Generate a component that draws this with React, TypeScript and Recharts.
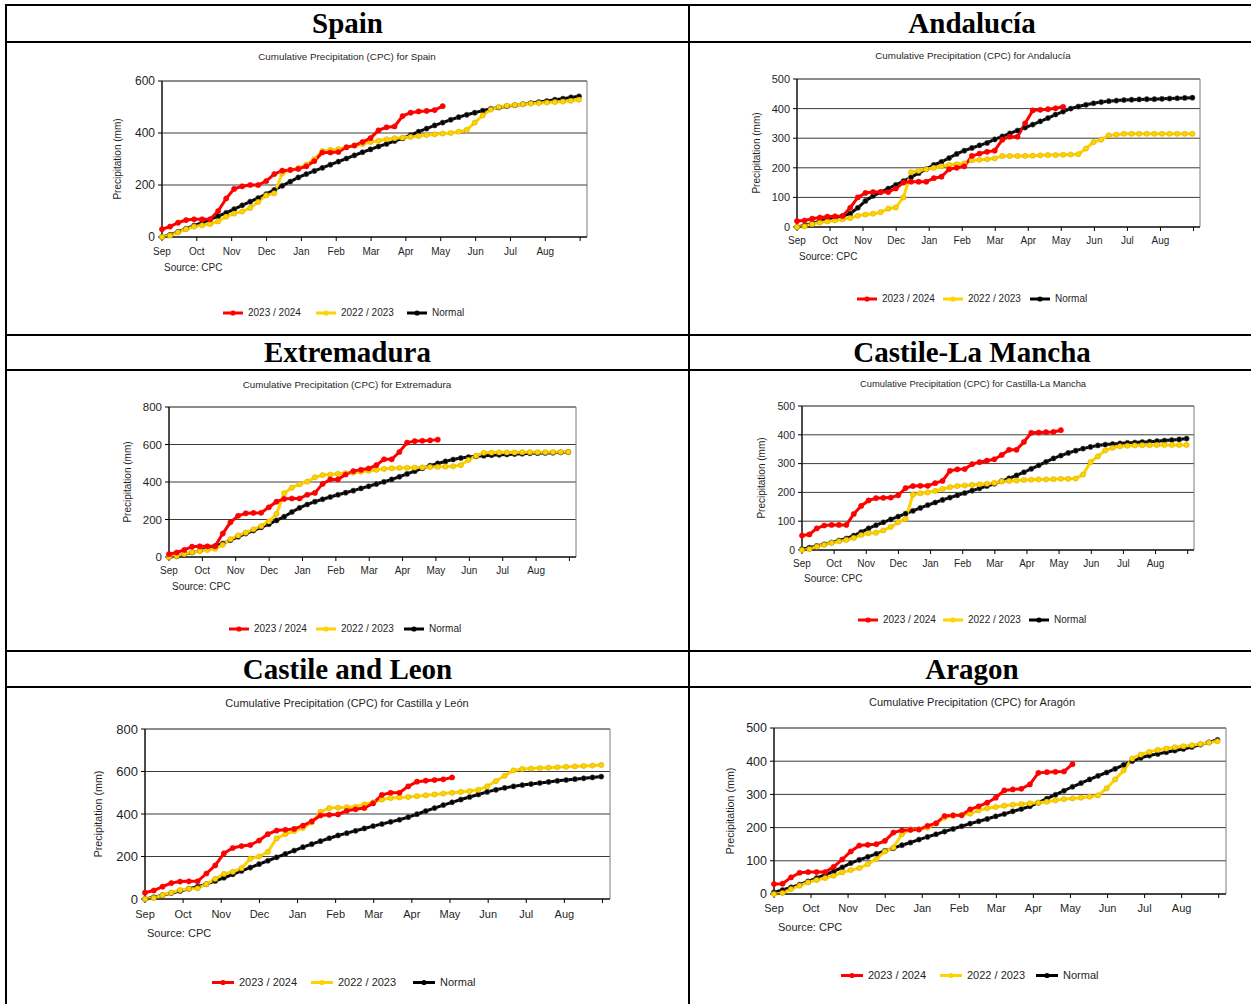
import React from "react";
import { LineChart, Line, XAxis, YAxis, CartesianGrid, ReferenceArea } from "recharts";

// weekly points, day of season (1 Sep = 0)
const DAYS = [
  0, 7, 14, 21, 28, 35, 42, 49, 56, 63, 70, 77, 84, 91, 98, 105, 112, 119, 126, 133,
  140, 147, 154, 161, 168, 175, 182, 189, 196, 203, 210, 217, 224, 231, 238, 245, 252,
  259, 266, 273, 280, 287, 294, 301, 308, 315, 322, 329, 336, 343, 350, 357, 364,
];
const MONTH_TICKS = [0, 30.4, 60.8, 91.3, 121.7, 152.1, 182.5, 212.9, 243.3, 273.8, 304.2, 334.6, 365];
const MONTH_LABELS = ["Sep", "Oct", "Nov", "Dec", "Jan", "Feb", "Mar", "Apr", "May", "Jun", "Jul", "Aug", ""];

const SERIES = [
  { key: "normal", name: "Normal", color: "#000000", dotStroke: "#555555" },
  { key: "prev", name: "2022 / 2023", color: "#ffd200", dotStroke: "#d9ad00" },
  { key: "cur", name: "2023 / 2024", color: "#ff0000", dotStroke: "#ff0000" },
];
const LEGEND_ORDER = ["cur", "prev", "normal"];

// Spain
const SPAIN_CUR = [30, 40, 55, 65, 68, 68, 68, 100, 148, 185, 195, 200, 200, 215, 242, 255, 258, 262, 272, 292, 325, 325, 327, 345, 352, 365, 380, 410, 422, 425, 465, 478, 483, 485, 488, 503];
const SPAIN_PREV = [0, 5, 18, 30, 40, 45, 50, 60, 78, 90, 98, 112, 135, 160, 168, 245, 258, 265, 278, 300, 330, 335, 338, 345, 352, 358, 365, 370, 376, 380, 382, 385, 388, 392, 395, 398, 400, 405, 412, 440, 468, 490, 500, 505, 508, 511, 513, 515, 517, 519, 521, 524, 528];
const SPAIN_NORMAL = [0, 8, 20, 32, 44, 55, 67, 80, 93, 107, 122, 136, 150, 165, 181, 197, 213, 229, 242, 254, 266, 278, 290, 302, 314, 326, 337, 348, 358, 369, 379, 392, 405, 417, 429, 440, 451, 461, 470, 478, 486, 493, 498, 503, 507, 511, 515, 519, 523, 528, 532, 537, 541];

// Andalucía
const AND_CUR = [20, 22, 28, 32, 35, 36, 37, 65, 100, 115, 118, 118, 118, 130, 150, 153, 153, 153, 165, 170, 195, 200, 205, 240, 248, 254, 258, 295, 305, 305, 350, 394, 396, 398, 401, 406];
const AND_PREV = [0, 2, 10, 15, 19, 22, 26, 30, 38, 42, 45, 50, 62, 66, 100, 185, 190, 195, 200, 205, 210, 212, 215, 225, 227, 229, 232, 240, 240, 240, 240, 241, 242, 243, 243, 244, 245, 246, 265, 287, 295, 310, 312, 315, 315, 315, 315, 315, 315, 315, 315, 315, 315];
const AND_NORMAL = [0, 5, 12, 20, 27, 32, 37, 45, 65, 88, 105, 118, 130, 142, 155, 168, 182, 196, 210, 220, 233, 247, 258, 267, 276, 284, 296, 306, 316, 326, 336, 346, 357, 368, 380, 390, 400, 407, 413, 418, 422, 425, 427, 429, 430, 431, 432, 432, 433, 434, 435, 436, 437];

// Extremadura
const EXT_CUR = [15, 24, 38, 55, 57, 57, 57, 125, 185, 220, 233, 235, 236, 265, 295, 310, 312, 312, 332, 342, 390, 414, 414, 440, 458, 465, 472, 490, 521, 521, 560, 610, 618, 620, 622, 626];
const EXT_PREV = [0, 5, 16, 25, 32, 38, 44, 65, 95, 115, 130, 148, 165, 190, 230, 340, 370, 388, 402, 425, 437, 440, 444, 447, 450, 455, 460, 465, 470, 473, 475, 476, 477, 478, 480, 481, 482, 484, 490, 518, 540, 556, 557, 558, 558, 558, 559, 559, 559, 559, 560, 560, 560];
const EXT_NORMAL = [0, 4, 14, 24, 34, 45, 58, 72, 90, 108, 125, 141, 158, 175, 195, 215, 240, 262, 280, 295, 308, 320, 332, 343, 354, 366, 377, 389, 401, 414, 428, 443, 458, 473, 487, 499, 510, 520, 528, 533, 537, 540, 543, 545, 547, 549, 551, 553, 554, 555, 556, 558, 559];

// Castilla-La Mancha
const CLM_CUR = [50, 54, 75, 85, 87, 87, 87, 125, 153, 172, 180, 181, 182, 190, 215, 222, 223, 223, 232, 240, 275, 280, 281, 298, 305, 310, 315, 330, 348, 348, 375, 407, 408, 409, 410, 416];
const CLM_PREV = [0, 3, 12, 18, 25, 30, 35, 42, 52, 58, 60, 68, 80, 96, 108, 192, 197, 200, 205, 212, 218, 222, 224, 226, 228, 230, 233, 238, 240, 241, 243, 244, 245, 245, 246, 247, 247, 248, 262, 305, 325, 346, 355, 360, 362, 363, 364, 364, 365, 365, 365, 365, 365];
const CLM_NORMAL = [3, 8, 14, 20, 26, 33, 40, 50, 62, 75, 86, 96, 106, 116, 126, 136, 146, 156, 165, 174, 182, 190, 198, 206, 214, 222, 230, 239, 249, 259, 270, 282, 294, 306, 318, 328, 337, 345, 352, 358, 363, 366, 368, 370, 372, 373, 375, 376, 378, 380, 382, 384, 387];

// Castilla y León
const CYL_CUR = [30, 40, 58, 75, 82, 83, 83, 120, 158, 215, 240, 249, 254, 275, 305, 322, 326, 330, 345, 365, 393, 396, 398, 415, 422, 428, 450, 490, 500, 500, 530, 552, 557, 560, 563, 572];
const CYL_PREV = [0, 5, 18, 30, 42, 48, 50, 70, 95, 118, 128, 145, 190, 200, 222, 285, 305, 320, 335, 360, 410, 428, 430, 432, 434, 445, 455, 468, 475, 478, 480, 484, 488, 492, 496, 500, 504, 508, 514, 530, 555, 580, 605, 612, 614, 616, 618, 620, 622, 624, 626, 628, 631];
const CYL_NORMAL = [0, 8, 18, 28, 38, 48, 58, 70, 85, 100, 116, 132, 148, 164, 180, 196, 212, 228, 244, 258, 272, 286, 299, 310, 321, 332, 343, 353, 363, 373, 385, 399, 414, 428, 442, 455, 468, 480, 492, 504, 514, 523, 530, 536, 541, 546, 551, 556, 560, 564, 568, 572, 576];

// Aragón
const ARA_CUR = [30, 31, 50, 64, 66, 66, 66, 82, 104, 128, 146, 148, 150, 160, 185, 192, 193, 194, 205, 213, 235, 237, 237, 255, 264, 275, 290, 312, 315, 317, 330, 365, 367, 368, 369, 391];
const ARA_PREV = [0, 3, 15, 25, 35, 42, 48, 55, 65, 72, 78, 90, 105, 128, 140, 180, 195, 195, 200, 212, 230, 236, 238, 242, 252, 258, 262, 266, 269, 271, 273, 275, 278, 282, 286, 288, 290, 293, 297, 318, 345, 372, 408, 420, 428, 434, 438, 442, 445, 448, 452, 456, 460];
const ARA_NORMAL = [5, 12, 20, 28, 38, 48, 58, 68, 80, 93, 103, 112, 121, 130, 138, 147, 155, 164, 172, 180, 188, 196, 204, 212, 219, 226, 234, 241, 249, 256, 264, 275, 287, 299, 311, 323, 334, 345, 356, 366, 377, 389, 400, 410, 417, 422, 427, 432, 437, 443, 450, 457, 464];

const TICKS_500 = [0, 100, 200, 300, 400, 500];
const TICKS_600 = [0, 200, 400, 600];
const TICKS_800 = [0, 200, 400, 600, 800];

const SANS = "'Liberation Sans', Arial, sans-serif";
const SERIF = "'Liberation Serif', 'Times New Roman', serif";
const INK = "#1f1f1f";

type PanelCfg = {
  title: string;
  box: [number, number, number, number];
  yMax: number;
  yTicks: number[];
  cur: number[];
  prev: number[];
  normal: number[];
  cx: number;
  titleY: number;
  sourceX: number;
  sourceY: number;
  legendY: number;
  legendX: number[];
  yLabelX: number;
  xLabelY: number;
  fx: number;
  fy: number;
  ft: number;
  fl: number;
  fs: number;
  lineLen: number;
};

const PANELS: PanelCfg[] = [
  {
    title: "Cumulative Precipitation (CPC) for Spain",
    box: [162, 81, 587, 237], yMax: 600, yTicks: TICKS_600,
    cur: SPAIN_CUR, prev: SPAIN_PREV, normal: SPAIN_NORMAL,
    cx: 347, titleY: 57, sourceX: 164, sourceY: 268, legendY: 313, legendX: [223, 316, 407],
    yLabelX: 118, xLabelY: 251, fx: 10, fy: 12, ft: 9.8, fl: 10, fs: 10, lineLen: 20,
  },
  {
    title: "Cumulative Precipitation (CPC) for Andalucía",
    box: [797, 79, 1200, 227], yMax: 500, yTicks: TICKS_500,
    cur: AND_CUR, prev: AND_PREV, normal: AND_NORMAL,
    cx: 973, titleY: 56, sourceX: 799, sourceY: 257, legendY: 299, legendX: [857, 943, 1030],
    yLabelX: 757, xLabelY: 240, fx: 10, fy: 11, ft: 9.8, fl: 10, fs: 10, lineLen: 20,
  },
  {
    title: "Cumulative Precipitation (CPC) for Extremadura",
    box: [169, 407, 576, 557], yMax: 800, yTicks: TICKS_800,
    cur: EXT_CUR, prev: EXT_PREV, normal: EXT_NORMAL,
    cx: 347, titleY: 385, sourceX: 172, sourceY: 587, legendY: 629, legendX: [229, 316, 404],
    yLabelX: 128, xLabelY: 570, fx: 10, fy: 11.5, ft: 9.8, fl: 10, fs: 10, lineLen: 20,
  },
  {
    title: "Cumulative Precipitation (CPC) for Castilla-La Mancha",
    box: [802, 406, 1194, 550], yMax: 500, yTicks: TICKS_500,
    cur: CLM_CUR, prev: CLM_PREV, normal: CLM_NORMAL,
    cx: 973, titleY: 384, sourceX: 804, sourceY: 579, legendY: 620, legendX: [858, 943, 1029],
    yLabelX: 762, xLabelY: 563, fx: 10, fy: 10.5, ft: 9.4, fl: 10, fs: 10, lineLen: 20,
  },
  {
    title: "Cumulative Precipitation (CPC) for Castilla y León",
    box: [145, 729, 610, 899], yMax: 800, yTicks: TICKS_800,
    cur: CYL_CUR, prev: CYL_PREV, normal: CYL_NORMAL,
    cx: 347, titleY: 703, sourceX: 147, sourceY: 933, legendY: 982, legendX: [212, 311, 413],
    yLabelX: 98, xLabelY: 914, fx: 11, fy: 13, ft: 11, fl: 10.7, fs: 11, lineLen: 22,
  },
  {
    title: "Cumulative Precipitation (CPC) for Aragón",
    box: [774, 728, 1226, 894], yMax: 500, yTicks: TICKS_500,
    cur: ARA_CUR, prev: ARA_PREV, normal: ARA_NORMAL,
    cx: 972, titleY: 702, sourceX: 778, sourceY: 927, legendY: 975, legendX: [841, 940, 1036],
    yLabelX: 730, xLabelY: 908, fx: 11, fy: 12.5, ft: 11, fl: 10.7, fs: 11, lineLen: 22,
  },
];

const HEADERS = [
  { text: "Spain", x: 6, y: 5, w: 683, h: 37 },
  { text: "Andalucía", x: 689, y: 5, w: 566, h: 37 },
  { text: "Extremadura", x: 6, y: 335, w: 683, h: 35 },
  { text: "Castile-La Mancha", x: 689, y: 335, w: 566, h: 35 },
  { text: "Castile and Leon", x: 6, y: 651, w: 683, h: 36 },
  { text: "Aragon", x: 689, y: 651, w: 566, h: 36 },
];
const H_LINES = [5, 42, 335, 370, 651, 687];
const V_LINES = [6, 689];

function Panel({ p }: { p: PanelCfg }) {
  const [L, T, R, B] = p.box;
  const pw = R - L;
  const ph = B - T;
  const rows = DAYS.map((d, i) => ({ day: d, cur: p.cur[i], prev: p.prev[i], normal: p.normal[i] }));
  const tickMargin = Math.max(0, p.xLabelY - B - 4 - 0.36 * p.fx);
  const abs = (x: number, y: number, tr: string): React.CSSProperties => ({
    position: "absolute", left: x, top: y, transform: tr, whiteSpace: "nowrap",
    fontFamily: SANS, color: INK, lineHeight: 1,
  });

  return (
    <>
      <div style={{ position: "absolute", left: L - 60, top: T - 10 }}>
        <LineChart width={pw + 70} height={ph + 40} data={rows} margin={{ top: 10, right: 10, bottom: 0, left: 20 }}>
          <CartesianGrid vertical={false} stroke="#3c3c3c" strokeWidth={1} />
          <ReferenceArea x1={0} x2={371} y1={0} y2={p.yMax} fill="none" stroke="#7a7a7a" strokeWidth={1} />
          <XAxis
            dataKey="day"
            type="number"
            domain={[0, 371]}
            ticks={MONTH_TICKS}
            interval={0}
            tickFormatter={(v: number) => MONTH_LABELS[MONTH_TICKS.indexOf(v)] ?? ""}
            height={30}
            tickSize={4}
            tickMargin={tickMargin}
            axisLine={{ stroke: "#000", strokeWidth: 1.2 }}
            tickLine={{ stroke: "#000" }}
            tick={{ fontSize: p.fx, fill: INK, fontFamily: SANS }}
          />
          <YAxis
            type="number"
            domain={[0, p.yMax]}
            ticks={p.yTicks}
            interval={0}
            width={40}
            tickSize={4}
            tickMargin={3}
            axisLine={{ stroke: "#000", strokeWidth: 1.2 }}
            tickLine={{ stroke: "#000" }}
            tick={{ fontSize: p.fy, fill: INK, fontFamily: SANS }}
          />
          {SERIES.map((s) => (
            <Line
              key={s.key}
              type="linear"
              dataKey={s.key}
              name={s.name}
              stroke={s.color}
              strokeWidth={3}
              dot={{ r: 2.6, fill: s.color, stroke: s.dotStroke, strokeWidth: 0.6 }}
              activeDot={false}
              isAnimationActive={false}
            />
          ))}
        </LineChart>
      </div>

      <div style={{ ...abs(p.cx, p.titleY, "translate(-50%,-50%)"), fontSize: p.ft }}>{p.title}</div>
      <div style={{ ...abs(p.yLabelX, (T + B) / 2, "translate(-50%,-50%) rotate(-90deg)"), fontSize: p.fl }}>
        Precipitation (mm)
      </div>
      <div style={{ ...abs(p.sourceX, p.sourceY, "translateY(-50%)"), fontSize: p.fs }}>Source: CPC</div>
      {LEGEND_ORDER.map((k, i) => {
        const s = SERIES.find((x) => x.key === k)!;
        return (
          <div key={k} style={{ ...abs(p.legendX[i], p.legendY, "translateY(-50%)"), display: "flex", alignItems: "center", fontSize: p.fs }}>
            <svg width={p.lineLen} height={8} style={{ display: "block" }}>
              <line x1={0} y1={4} x2={p.lineLen} y2={4} stroke={s.color} strokeWidth={3} />
              <circle cx={p.lineLen / 2} cy={4} r={2.6} fill={s.color} />
            </svg>
            <span style={{ marginLeft: 5 }}>{s.name}</span>
          </div>
        );
      })}
    </>
  );
}

export default function App() {
  return (
    <div style={{ position: "absolute", left: 0, top: 0, width: 1251, height: 1004, overflow: "hidden", background: "#fff" }}>
      {H_LINES.map((y) => (
        <div key={"h" + y} style={{ position: "absolute", left: 5, top: y - 1, width: 1260, height: 2, background: "#000" }} />
      ))}
      {V_LINES.map((x) => (
        <div key={"v" + x} style={{ position: "absolute", left: x - 1, top: 4, width: 2, height: 1010, background: "#000" }} />
      ))}
      {HEADERS.map((h) => (
        <div
          key={h.text}
          style={{
            position: "absolute", left: h.x, top: h.y, width: h.w, height: h.h,
            display: "flex", alignItems: "center", justifyContent: "center",
            fontFamily: SERIF, fontWeight: "bold", fontSize: 29, color: "#000",
          }}
        >
          {h.text}
        </div>
      ))}
      {PANELS.map((p) => (
        <Panel key={p.title} p={p} />
      ))}
    </div>
  );
}
